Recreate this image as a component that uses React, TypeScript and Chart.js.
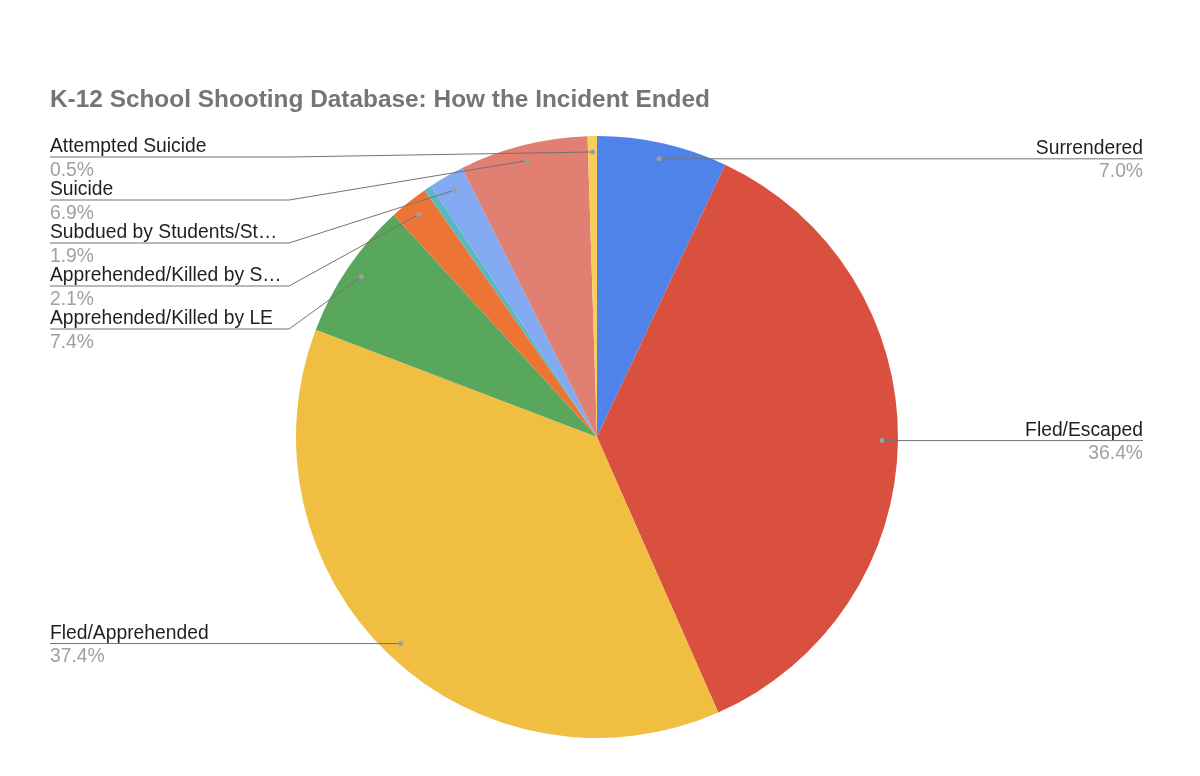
import { useEffect, useRef } from "react";
import { Chart, registerables } from "chart.js";

Chart.register(...registerables);

const chartTitle = "K-12 School Shooting Database: How the Incident Ended";

// slice names as shown in the chart (Google truncates the long ones)
const categories = [
  "Surrendered",
  "Fled/Escaped",
  "Fled/Apprehended",
  "Apprehended/Killed by LE",
  "Apprehended/Killed by S…",
  "Other",
  "Subdued by Students/St…",
  "Suicide",
  "Attempted Suicide",
];

// percent of incidents
const shares = [7.0, 36.4, 37.4, 7.4, 2.1, 0.4, 1.9, 6.9, 0.5];

const sliceColors = [
  "#5083ea",
  "#d9503f",
  "#f0be41",
  "#58a75c",
  "#ec7535",
  "#5bb8c0",
  "#82a9f1",
  "#e07f72",
  "#f8cf5a",
];

// slices below this share get no label
const minLabelShare = 0.5;

const FONT = '"Liberation Sans", Arial, Helvetica, sans-serif';

const labelPlugin = {
  id: "sheetLabels",
  afterDraw(chart: any) {
    const ctx = chart.ctx as CanvasRenderingContext2D;
    const W = chart.width;
    const meta = chart.getDatasetMeta(0);

    // title
    ctx.save();
    ctx.font = `bold 24.4px ${FONT}`;
    ctx.fillStyle = "#757575";
    ctx.textAlign = "left";
    ctx.textBaseline = "alphabetic";
    ctx.fillText(chartTitle, 50, 107);
    ctx.restore();

    const leftX = 50;
    const rightX = W - 57;
    const elbowL = 289;
    const elbowR = W - 289;
    const gap = 43;
    const minY = 157;

    type Lab = { i: number; dx: number; dy: number; left: boolean; y: number };
    const labs: Lab[] = [];
    meta.data.forEach((arc: any, i: number) => {
      if (shares[i] < minLabelShare) return;
      const p = arc.getProps(["x", "y", "startAngle", "endAngle", "outerRadius"], true);
      const mid = (p.startAngle + p.endAngle) / 2;
      const r = p.outerRadius * 0.947;
      const dx = p.x + Math.cos(mid) * r;
      const dy = p.y + Math.sin(mid) * r;
      labs.push({ i, dx, dy, left: dx < p.x, y: dy });
    });

    // stack labels so they don't overlap
    [true, false].forEach((side) => {
      const group = labs.filter((l) => l.left === side).sort((a, b) => a.dy - b.dy);
      let prev = -Infinity;
      group.forEach((l) => {
        l.y = Math.max(l.dy, prev + gap, minY);
        prev = l.y;
      });
    });

    labs.forEach((l) => {
      ctx.save();
      ctx.strokeStyle = "#737373";
      ctx.lineWidth = 1;
      ctx.beginPath();
      if (l.left) {
        ctx.moveTo(leftX, l.y);
        ctx.lineTo(elbowL, l.y);
      } else {
        ctx.moveTo(rightX, l.y);
        ctx.lineTo(elbowR, l.y);
      }
      ctx.lineTo(l.dx, l.dy);
      ctx.stroke();

      ctx.fillStyle = "#9e9e9e";
      ctx.beginPath();
      ctx.arc(l.dx, l.dy, 2.5, 0, Math.PI * 2);
      ctx.fill();

      ctx.font = `19.3px ${FONT}`;
      ctx.textAlign = l.left ? "left" : "right";
      ctx.textBaseline = "alphabetic";
      const tx = l.left ? leftX : rightX;
      ctx.fillStyle = "#1f1f1f";
      ctx.fillText(categories[l.i], tx, l.y - 5);
      ctx.fillStyle = "#a0a0a0";
      ctx.fillText(shares[l.i].toFixed(1) + "%", tx, l.y + 18.5);
      ctx.restore();
    });
  },
};

export default function App() {
  const canvasRef = useRef<HTMLCanvasElement>(null);

  useEffect(() => {
    if (!canvasRef.current) return;
    Chart.getChart(canvasRef.current)?.destroy();

    const chart = new Chart(canvasRef.current, {
      type: "pie",
      data: {
        labels: categories,
        datasets: [
          {
            data: shares,
            backgroundColor: sliceColors,
            borderWidth: 0,
          },
        ],
      },
      options: {
        responsive: false,
        animation: false,
        events: [],
        layout: {
          padding: { left: 296, right: 302, top: 136, bottom: 38 },
        },
        plugins: {
          legend: { display: false },
          tooltip: { enabled: false },
          title: { display: false },
        },
      },
      plugins: [labelPlugin],
    });

    return () => chart.destroy();
  }, []);

  return (
    <div style={{ position: "absolute", left: 0, top: 0, width: 1200, height: 776, background: "#fff" }}>
      <canvas ref={canvasRef} width={1200} height={776}></canvas>
    </div>
  );
}
